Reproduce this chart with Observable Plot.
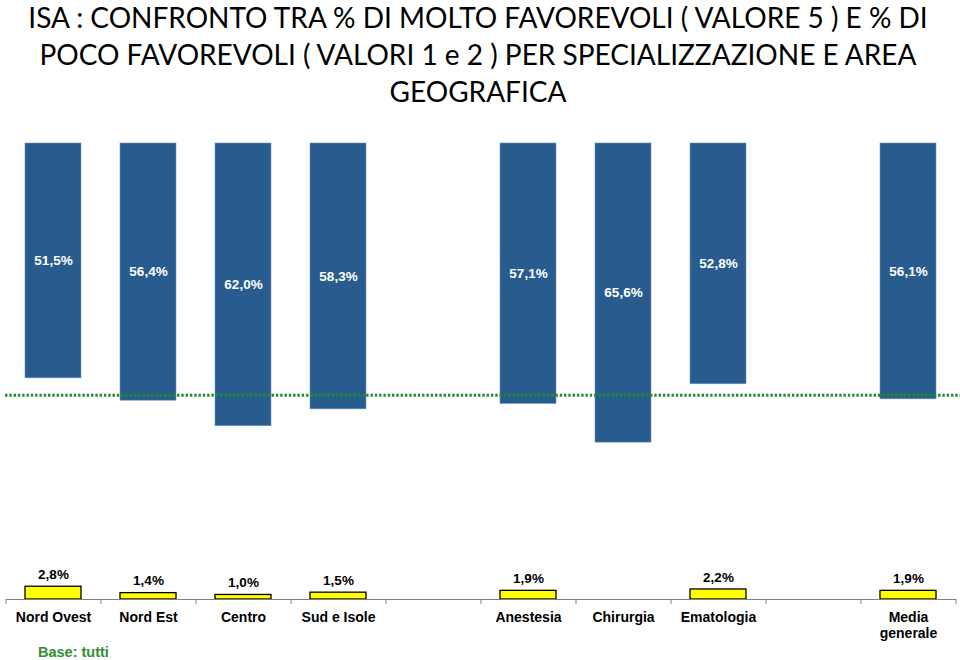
<!DOCTYPE html>
<html>
<head>
<meta charset="utf-8">
<script src="https://cdn.jsdelivr.net/npm/d3@7"></script>
<script src="https://cdn.jsdelivr.net/npm/@observablehq/plot@0.6"></script>
<style>
  body { margin: 0; background: #fff; }
  #title { width: 956px; height: 111px; text-align: center; font-family: Lato, "Open Sans", sans-serif; font-size: 28px; line-height: 37px; color: #000; margin-top: -1px; }
  #chart { height: 530px; }
  #caption { position: relative; height: 20px; padding-left: 38px; font-family: "Liberation Sans", Arial, sans-serif; font-weight: bold; font-size: 14.5px; line-height: 20px; color: #2f8f2f; margin-top: 2px; }
</style>
</head>
<body>
<div id="title">ISA : CONFRONTO TRA % DI MOLTO FAVOREVOLI ( VALORE 5 ) E % DI<br>POCO FAVOREVOLI ( VALORI 1 e 2 ) PER SPECIALIZZAZIONE E AREA<br>GEOGRAFICA</div>
<div id="chart"></div>
<div id="caption">Base: tutti</div>
<script>
const slots = ["Nord Ovest", "Nord Est", "Centro", "Sud e Isole", "gap1", "Anestesia", "Chirurgia", "Ematologia", "gap2", "Media generale"];
const groups = ["Nord Ovest", "Nord Est", "Centro", "Sud e Isole", "Anestesia", "Chirurgia", "Ematologia", "Media generale"];
const moltoFavorevoli = [51.5, 56.4, 62.0, 58.3, 57.1, 65.6, 52.8, 56.1];
const pocoFavorevoli = [2.8, 1.4, 1.0, 1.5, 1.9, null, 2.2, 1.9];
const referenceLine = 55.2;

const fmt = v => v.toFixed(1).replace(".", ",") + "%";
const blue = groups.map((g, i) => ({g, v: moltoFavorevoli[i]}));
const yellow = groups.map((g, i) => ({g, v: pocoFavorevoli[i]})).filter(d => d.v != null);
const tickLabel = d => d.startsWith("gap") ? "" : (d === "Media generale" ? "Media\ngenerale" : d);

const chart = Plot.plot({
  width: 960,
  height: 545,
  marginLeft: 6,
  marginRight: 4,
  marginTop: 33,
  marginBottom: 56,
  style: {fontFamily: "'Liberation Sans', Arial, sans-serif", background: "transparent", display: "block"},
  x: {domain: slots, paddingInner: 0.41, paddingOuter: 0.205},
  y: {domain: [0, 100], axis: null},
  marks: [
    Plot.barY(blue, {x: "g", y1: d => 100, y2: d => 100 - d.v, fill: "#295c8e", stroke: "#6f93bb", strokeWidth: 0.6}),
    Plot.text(blue, {x: "g", y: d => 100 - d.v / 2, text: d => fmt(d.v), fill: "#fff", fontWeight: "bold", fontSize: 13.5}),
    Plot.barY(yellow, {x: "g", y1: d => 0, y2: "v", fill: "#ffff00", stroke: "#000", strokeWidth: 1.3}),
    Plot.text(yellow, {x: "g", y: "v", dy: -12, text: d => fmt(d.v), fill: "#000", fontWeight: "bold", fontSize: 13.5}),
    Plot.ruleY([100 - referenceLine], {stroke: "#1f8b2c", strokeWidth: 3, strokeDasharray: "2.4,1.9", insetLeft: -1, insetRight: -4}),
    Plot.ruleY([0], {stroke: "#7f7f7f", strokeWidth: 1}),
    Plot.ruleX(slots, {x: d => d, y1: d => 0, y2: d => -1.1, dx: -47.5, stroke: "#7f7f7f"}),
    Plot.ruleX(slots.slice(-1), {x: d => d, y1: d => 0, y2: d => -1.1, dx: 47.5, stroke: "#7f7f7f"}),
    Plot.axisX({tickSize: 0, tickPadding: 11, tickFormat: tickLabel, fontSize: 14, fontWeight: "bold", lineHeight: 1.15, fill: "#000", label: null})
  ]
});
document.getElementById("chart").appendChild(chart);
</script>
</body>
</html>
